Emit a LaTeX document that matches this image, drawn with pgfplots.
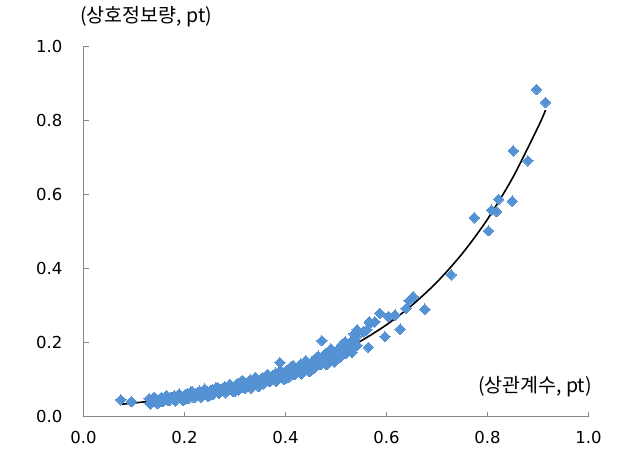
\documentclass[border=0pt]{standalone}
\usepackage{pgfplots}
\pgfplotsset{compat=1.18}
\usepackage{fontspec}
\setmainfont{DejaVu Sans}
\newfontfamily\kr{Noto Sans CJK KR}
\definecolor{ptblue}{RGB}{85,146,211}
\definecolor{axgray}{RGB}{134,134,134}
\begin{document}
\begin{tikzpicture}
\path[use as bounding box] (-83.5pt,-33.5pt) rectangle (552.5pt,416.5pt);
\begin{axis}[
  at={(0pt,0pt)}, anchor=south west,
  scale only axis, width=505pt, height=370pt,
  xmin=0, xmax=1, ymin=0, ymax=1,
  axis x line*=bottom, axis y line*=left,
  axis line style={axgray, line width=0.8pt},
  tick align=inside, major tick length=5pt,
  tick style={axgray, line width=0.8pt},
  xtick={0,0.2,0.4,0.6,0.8,1}, ytick={0,0.2,0.4,0.6,0.8,1},
  /pgf/number format/assume math mode=true,
  /pgf/number format/.cd, fixed, fixed zerofill, precision=1, /pgfplots/.cd,
  tick label style={font=\fontsize{16.5}{19}\selectfont, inner sep=0pt, black},
  yticklabel shift=21pt, xticklabel shift=15pt,
  clip=false,
]
\addplot[ptblue, only marks, mark=square*, mark size=3.7pt, mark options={rotate=45, fill=ptblue, draw=ptblue, line width=0pt}] coordinates {
(0.074,0.045)(0.095,0.040)
(0.130,0.048)(0.132,0.034)(0.135,0.039)(0.137,0.048)(0.140,0.052)(0.142,0.041)
(0.145,0.045)(0.147,0.035)(0.150,0.038)(0.152,0.049)(0.155,0.050)(0.157,0.040)
(0.160,0.045)(0.162,0.054)(0.165,0.056)(0.167,0.043)(0.170,0.043)(0.172,0.050)
(0.175,0.052)(0.177,0.049)(0.180,0.056)(0.182,0.042)(0.185,0.047)(0.187,0.057)
(0.190,0.061)(0.192,0.050)(0.195,0.054)(0.197,0.044)(0.200,0.046)(0.202,0.060)
(0.205,0.061)(0.207,0.048)(0.210,0.055)(0.212,0.066)(0.215,0.068)(0.217,0.053)
(0.220,0.052)(0.222,0.061)(0.225,0.063)(0.227,0.059)(0.230,0.069)(0.232,0.052)
(0.235,0.058)(0.237,0.069)(0.240,0.074)(0.242,0.060)(0.245,0.066)(0.247,0.054)
(0.250,0.057)(0.252,0.071)(0.255,0.072)(0.257,0.060)(0.260,0.066)(0.262,0.077)
(0.265,0.079)(0.267,0.064)(0.270,0.064)(0.272,0.073)(0.275,0.075)(0.277,0.071)
(0.280,0.081)(0.282,0.064)(0.285,0.070)(0.287,0.082)(0.290,0.087)(0.292,0.073)
(0.295,0.078)(0.297,0.067)(0.300,0.069)(0.302,0.086)(0.305,0.088)(0.307,0.072)
(0.310,0.080)(0.312,0.095)(0.315,0.097)(0.317,0.078)(0.320,0.077)(0.322,0.089)
(0.325,0.092)(0.327,0.087)(0.330,0.099)(0.332,0.077)(0.335,0.085)(0.337,0.100)
(0.340,0.106)(0.342,0.089)(0.345,0.095)(0.347,0.081)(0.350,0.085)(0.352,0.102)
(0.355,0.105)(0.357,0.088)(0.360,0.097)(0.362,0.111)(0.365,0.114)(0.367,0.095)
(0.370,0.095)(0.372,0.107)(0.375,0.109)(0.377,0.104)(0.380,0.117)(0.382,0.095)
(0.385,0.103)(0.387,0.118)(0.390,0.125)(0.392,0.108)(0.395,0.114)(0.397,0.100)
(0.400,0.102)(0.402,0.124)(0.405,0.127)(0.407,0.107)(0.410,0.117)(0.412,0.135)
(0.415,0.138)(0.417,0.115)(0.420,0.115)(0.422,0.129)(0.425,0.132)(0.427,0.126)
(0.430,0.142)(0.432,0.115)(0.435,0.125)(0.437,0.143)(0.440,0.151)(0.442,0.130)
(0.445,0.139)(0.447,0.121)(0.450,0.126)(0.452,0.147)(0.455,0.151)(0.457,0.131)
(0.460,0.141)(0.462,0.160)(0.465,0.163)(0.467,0.140)(0.470,0.140)(0.472,0.155)
(0.475,0.158)(0.477,0.153)(0.480,0.171)(0.482,0.140)(0.485,0.152)(0.487,0.173)
(0.490,0.183)(0.492,0.158)(0.495,0.168)(0.497,0.147)(0.500,0.153)(0.502,0.178)
(0.505,0.182)(0.507,0.160)(0.510,0.172)(0.512,0.193)(0.515,0.197)(0.517,0.170)
(0.520,0.170)(0.522,0.188)(0.525,0.192)(0.527,0.185)(0.530,0.203)(0.532,0.173)
(0.535,0.185)(0.537,0.206)(0.540,0.216)(0.542,0.192)
(0.389,0.146)(0.472,0.205)(0.511,0.193)(0.518,0.202)(0.536,0.223)(0.542,0.234)
(0.554,0.229)(0.561,0.234)(0.564,0.187)(0.566,0.256)(0.567,0.252)(0.577,0.256)
(0.587,0.279)(0.597,0.216)(0.604,0.270)(0.617,0.274)(0.627,0.236)(0.639,0.292)
(0.645,0.313)(0.653,0.324)(0.676,0.290)(0.728,0.383)(0.774,0.537)(0.802,0.502)
(0.808,0.558)(0.818,0.554)(0.822,0.587)(0.849,0.582)(0.851,0.718)(0.880,0.691)
(0.897,0.884)(0.915,0.849)
};
\addplot[black, line width=1.6pt, smooth] coordinates {
(0.075,0.0332)(0.10,0.0365)(0.15,0.0442)(0.20,0.0536)(0.25,0.0649)(0.30,0.0786)
(0.35,0.0951)(0.40,0.1152)(0.45,0.1395)(0.50,0.1690)(0.55,0.2047)(0.60,0.2479)
(0.65,0.3002)(0.70,0.3635)(0.75,0.4403)(0.80,0.5332)(0.85,0.6457)(0.90,0.7820)
(0.915,0.8282)
};
\end{axis}
\node[anchor=west, inner sep=0pt, font=\kr\fontsize{19.5}{23}\selectfont] at (-3.5pt,399.5pt) {(상호정보량, pt)};
\node[anchor=east, inner sep=0pt, font=\kr\fontsize{19.5}{23}\selectfont] at (508.5pt,29.8pt) {(상관계수, pt)};
\end{tikzpicture}
\end{document}
